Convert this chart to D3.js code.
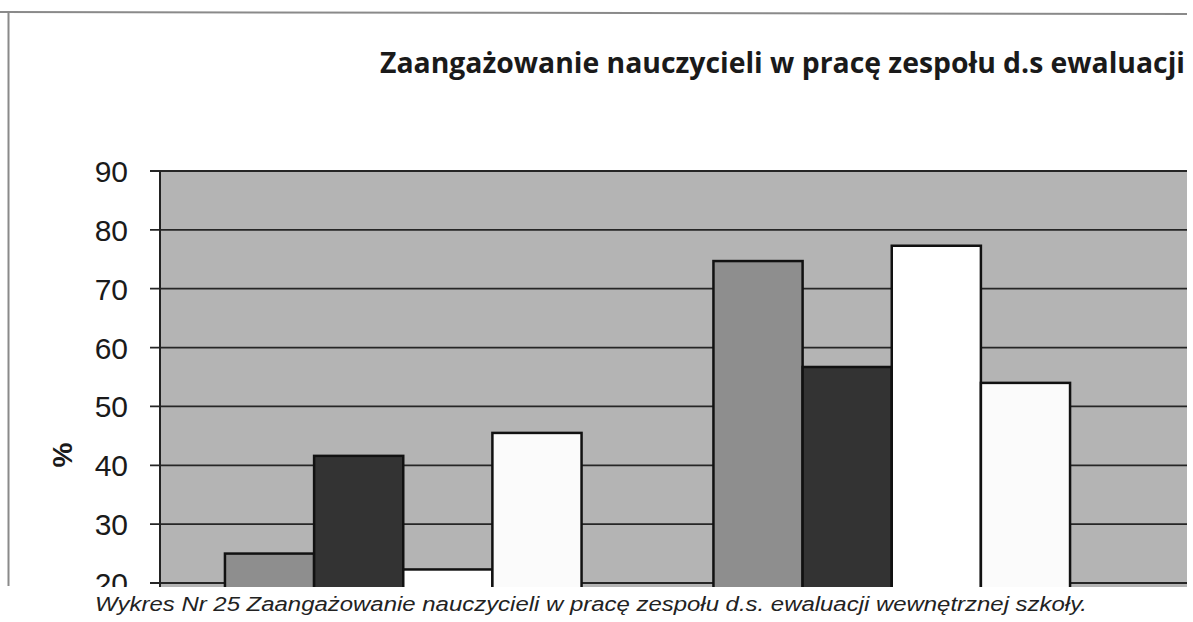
<!DOCTYPE html>
<html>
<head>
<meta charset="utf-8">
<script src="https://cdn.jsdelivr.net/npm/d3@7"></script>
<style>
  body { margin: 0; background: #fff; }
</style>
</head>
<body>
<script>
// data
const groups = ["Grupa 1", "Grupa 2"];
const seriesNames = ["s1", "s2", "s3", "s4"];
const seriesColors = ["#8e8e8e", "#333333", "#ffffff", "#fbfbfb"];
const values = [
  [25, 41.6, 22.3, 45.5],
  [74.7, 56.7, 77.3, 54]
];
const yTicks = [20, 30, 40, 50, 60, 70, 80, 90];
const titleText = "Zaangażowanie nauczycieli w pracę zespołu d.s ewaluacji";
const captionText = "Wykres Nr 25  Zaangażowanie nauczycieli w pracę zespołu d.s. ewaluacji wewnętrznej szkoły.";

const W = 1193, H = 622;
const svg = d3.select("body").append("svg")
  .attr("width", W).attr("height", H);

// frame of the scanned page
svg.append("line").attr("x1", 0).attr("x2", 1187).attr("y1", 12).attr("y2", 14)
  .attr("stroke", "#8a8a8a").attr("stroke-width", 2);
svg.append("line").attr("x1", 8.5).attr("x2", 8.5).attr("y1", 12).attr("y2", 586)
  .attr("stroke", "#8a8a8a").attr("stroke-width", 2);

// title
svg.append("text")
  .attr("x", 380).attr("y", 73)
  .attr("textLength", 805).attr("lengthAdjust", "spacingAndGlyphs")
  .style("font-family", "'Open Sans', sans-serif")
  .style("font-weight", "bold").style("font-size", "28px")
  .style("fill", "#1a1a1a")
  .text(titleText);

const plotLeft = 160, plotRight = 1187, clipBottom = 587;

const y = d3.scaleLinear().domain([20, 90]).range([583, 171]);
const x0 = d3.scaleBand().domain(groups).range([159, 1136])
  .paddingInner(0.27).paddingOuter(0.135);
const x1 = d3.scaleBand().domain(seriesNames).range([0, x0.bandwidth()]);

svg.append("clipPath").attr("id", "cut")
  .append("rect").attr("x", 0).attr("y", 0).attr("width", W).attr("height", clipBottom);

const g = svg.append("g").attr("clip-path", "url(#cut)");

// plot background
g.append("rect")
  .attr("x", plotLeft).attr("y", y(90))
  .attr("width", plotRight - plotLeft).attr("height", clipBottom - y(90))
  .attr("fill", "#b4b4b4");

// gridlines
g.selectAll(".grid").data(yTicks).join("line")
  .attr("x1", plotLeft - 10).attr("x2", plotRight)
  .attr("y1", d => y(d)).attr("y2", d => y(d))
  .attr("stroke", "#262626").attr("stroke-width", 1.8);

// y axis line
g.append("line").attr("x1", plotLeft).attr("x2", plotLeft)
  .attr("y1", y(90)).attr("y2", clipBottom)
  .attr("stroke", "#222").attr("stroke-width", 2);

// tick labels
g.selectAll(".tl").data(yTicks).join("text")
  .attr("x", 128).attr("y", d => y(d) + 11)
  .attr("text-anchor", "end")
  .style("font-family", "'Liberation Sans', Arial, sans-serif")
  .style("font-size", "30px").style("fill", "#1a1a1a")
  .text(d => d);

// bars
const grp = g.selectAll(".grp").data(values).join("g")
  .attr("transform", (d, i) => `translate(${x0(groups[i])},0)`);
grp.selectAll("rect").data(d => d).join("rect")
  .attr("x", (d, j) => x1(seriesNames[j]))
  .attr("y", d => y(d))
  .attr("width", x1.bandwidth())
  .attr("height", d => y(0) - y(d))
  .attr("fill", (d, j) => seriesColors[j])
  .attr("stroke", "#111").attr("stroke-width", 2.5);

// axis title
svg.append("text")
  .attr("transform", "translate(72,455) rotate(-90)")
  .attr("text-anchor", "middle")
  .style("font-family", "'Liberation Sans', Arial, sans-serif")
  .style("font-weight", "bold").style("font-size", "28px")
  .style("fill", "#1a1a1a")
  .text("%");

// caption
svg.append("text")
  .attr("x", 95).attr("y", 611)
  .attr("textLength", 992).attr("lengthAdjust", "spacingAndGlyphs")
  .style("font-family", "'Liberation Sans', Arial, sans-serif")
  .style("font-style", "italic").style("font-size", "20px")
  .style("fill", "#222")
  .text(captionText);
</script>
</body>
</html>
